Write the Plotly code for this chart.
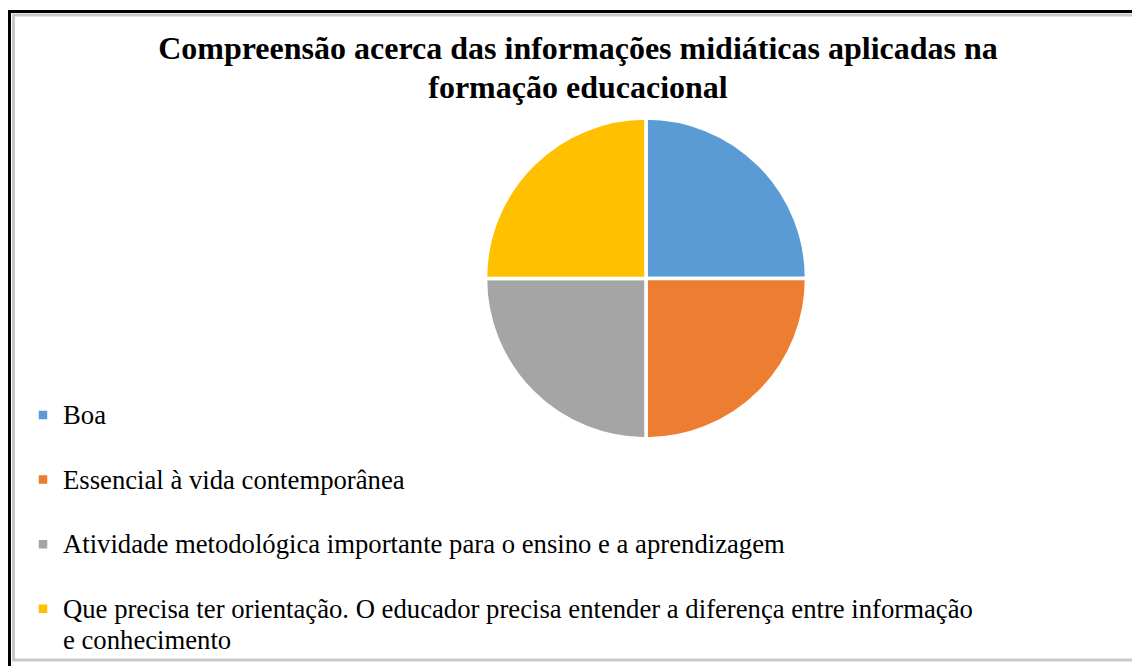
"""Gráfico de pizza: compreensão acerca das informações midiáticas"""
import plotly.graph_objects as go

W, H = 1140, 666
OFF = 8  # margem do <body> da página

categorias = [
    "Boa",
    "Essencial à vida contemporânea",
    "Atividade metodológica importante para o ensino e a aprendizagem",
    "Que precisa ter orientação. O educador precisa entender a diferença entre informação<br>e conhecimento",
]
valores = [25, 25, 25, 25]
cores = ["#5B9BD5", "#ED7D31", "#A5A5A5", "#FFC000"]

titulo = "Compreensão acerca das informações midiáticas aplicadas na<br>formação educacional"


def grande(txt, tam):
    """Aumenta a fonte mantendo o espaçamento entre linhas"""
    return "<br>".join('<span style="font-size:%spx">%s</span>' % (tam, p) if p.strip() else p
                       for p in txt.split("<br>"))


# espaço extra entre os itens da legenda (como no Excel)
rotulos = [grande(c if "<br>" in c else c + "<br> ", 26.7) for c in categorias]


def px_x(v):
    return (v - OFF) / W


def px_y(v):
    return 1 - (v - OFF) / H


cx, cy, r = 646, 278.5, 160.5

fig = go.Figure(go.Pie(
    labels=rotulos,
    values=valores,
    sort=False,
    direction="clockwise",
    rotation=0,
    textinfo="none",
    hoverinfo="percent",
    marker=dict(colors=cores, line=dict(color="white", width=3.5)),
    domain=dict(x=[px_x(cx - r), px_x(cx + r)], y=[px_y(cy + r), px_y(cy - r)]),
))

# moldura
fig.add_shape(type="rect", xref="paper", yref="paper",
              x0=px_x(13.5), x1=px_x(1133.5), y0=px_y(660), y1=px_y(15),
              line=dict(color="#C8C8C8", width=3), layer="below")
fig.add_shape(type="rect", xref="paper", yref="paper",
              x0=px_x(9.5), x1=px_x(1137), y0=px_y(672), y1=px_y(11.5),
              line=dict(color="black", width=3), layer="below")

fig.update_layout(
    width=W, height=H,
    margin=dict(l=0, r=0, t=0, b=0),
    paper_bgcolor="white",
    plot_bgcolor="white",
    font=dict(family="Liberation Serif", color="black"),
    title=dict(
        text=grande(titulo, 32),
        x=px_x(578), xanchor="center",
        y=px_y(59), yanchor="top",
        font=dict(family="Liberation Serif", size=30, color="black", weight="bold"),
    ),
    legend=dict(
        x=px_x(23), xanchor="left",
        y=px_y(393), yanchor="top",
        valign="top",
        font=dict(family="Liberation Serif", size=23.7, color="black"),
        bgcolor="rgba(0,0,0,0)",
    ),
)

fig.write_html("out.html")
